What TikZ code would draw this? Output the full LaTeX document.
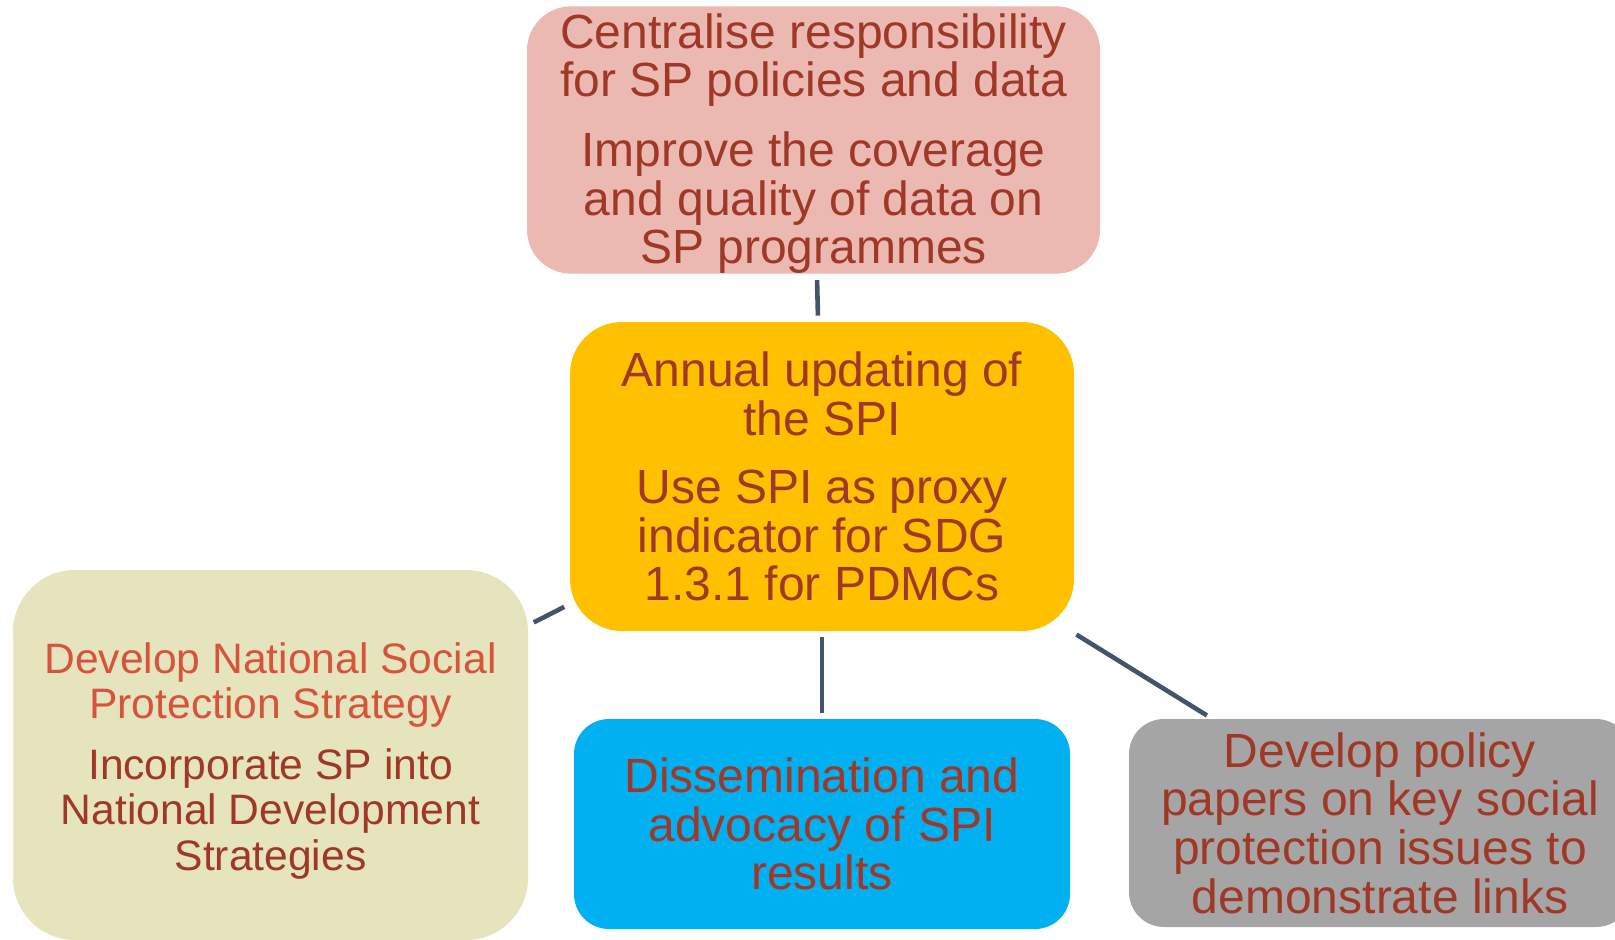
\documentclass[tikz,border=0pt]{standalone}
\usepackage{fontspec}
\setmainfont{Liberation Sans}

\definecolor{boxtext}{RGB}{160,56,40}
\definecolor{lighttext}{RGB}{214,84,60}
\definecolor{linkgray}{RGB}{68,84,106}
\definecolor{pinkfill}{RGB}{235,185,177}
\definecolor{goldfill}{RGB}{255,192,0}
\definecolor{bluefill}{RGB}{0,176,240}
\definecolor{greyfill}{RGB}{165,165,165}
\definecolor{beigefill}{RGB}{230,228,188}

\begin{document}
\begin{tikzpicture}[x=0.5pt, y=-0.5pt,
    box/.style={rectangle, align=center, inner sep=0pt, text=boxtext,
        font=\fontsize{24}{24.3}\selectfont},
    link/.style={draw=linkgray, line width=2.3pt, shorten <=3pt, shorten >=3pt}]
    \useasboundingbox (0,0) rectangle (1615,939);
    \clip (0,0) rectangle (1615,939);

    % Centre box and the four around it
    \node[box, fill=goldfill, minimum width=252pt, minimum height=154.5pt, rounded corners=26pt]
        (update) at (822,476.5) {Annual updating of\\the SPI\\[10pt]Use SPI as proxy\\indicator for SDG\\1.3.1 for PDMCs};
    \node[box, fill=pinkfill, minimum width=286.5pt, minimum height=133pt, rounded corners=22pt]
        (data) at (813.5,140) {\rule{0pt}{21pt}Centralise responsibility\\for SP policies and data\\[10.5pt]Improve the coverage\\and quality of data on\\SP programmes};
    \node[box, fill=bluefill, minimum width=248pt, minimum height=105pt, rounded corners=17.5pt]
        (dissem) at (822,824) {Dissemination and\\advocacy of SPI\\results};
    \node[box, fill=greyfill, minimum width=251pt, minimum height=104pt, rounded corners=17.5pt]
        (policy) at (1380,823) {Develop policy\\papers on key social\\protection issues to\\demonstrate links};
    \node[box, fill=beigefill, minimum width=257.5pt, minimum height=185pt, rounded corners=31pt,
        font=\fontsize{21.3}{22.6}\selectfont]
        (strategy) at (270.5,755) {\rule{0pt}{21pt}\textcolor{lighttext}{Develop National Social}\\\textcolor{lighttext}{Protection Strategy}\\[8pt]Incorporate SP into\\National Development\\Strategies};

    % Links from the centre
    \draw[link] (data) -- (update);
    \draw[link] (update) -- (dissem);
    \draw[link] (update) -- (policy);
    \draw[link] (update) -- (strategy);
\end{tikzpicture}
\end{document}
